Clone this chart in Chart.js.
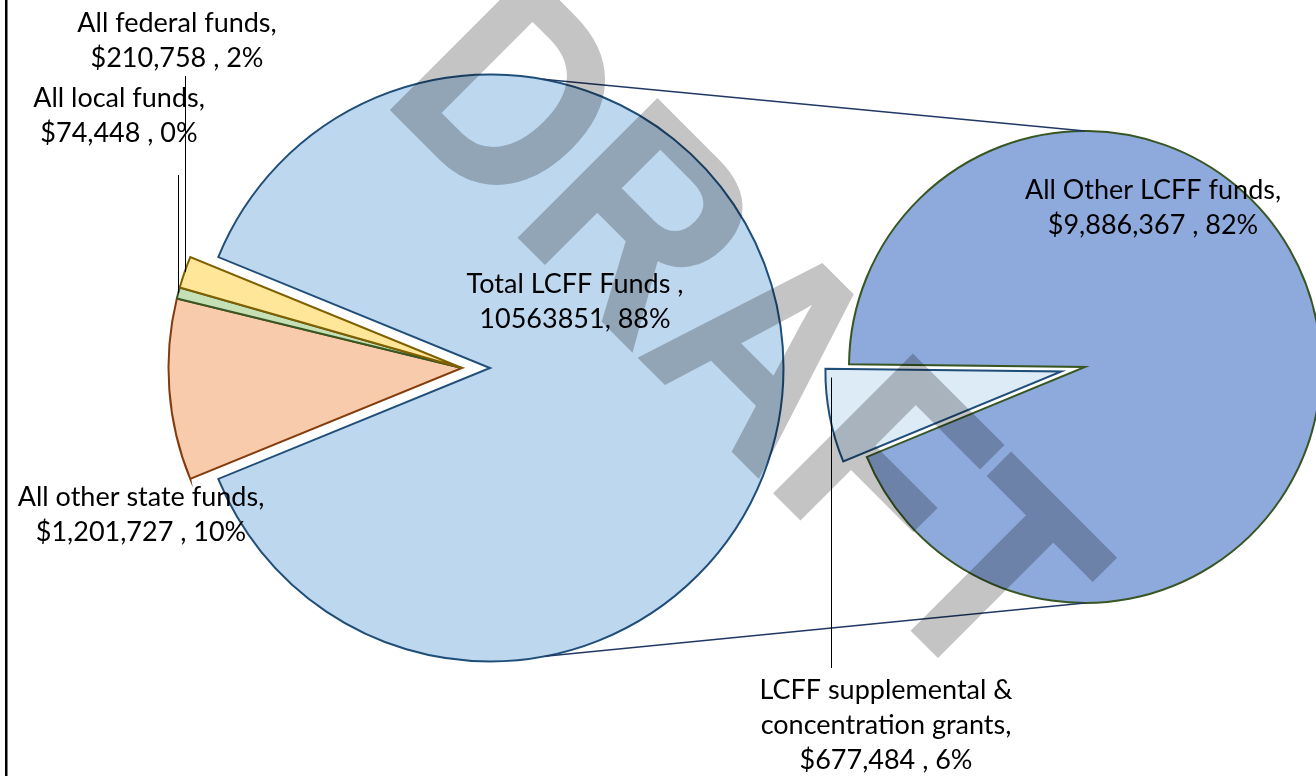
<!DOCTYPE html>
<html>
<head>
<meta charset="utf-8">
<script src="https://cdn.jsdelivr.net/npm/chart.js@4.4.1/dist/chart.umd.min.js"></script>
<style>
  html, body { margin: 0; padding: 0; background: #fff; }
  #wrap { position: relative; width: 1316px; height: 776px; overflow: hidden; }
  #wrap canvas { position: absolute; left: 0; top: 0; }
</style>
</head>
<body>
<div id="wrap">
  <canvas id="leftMain" width="1316" height="776"></canvas>
  <canvas id="leftSmall" width="1316" height="776"></canvas>
  <canvas id="secondMain" width="1316" height="776"></canvas>
  <canvas id="secondSmall" width="1316" height="776"></canvas>
</div>
<script>
// ── Data ──────────────────────────────────────────────────────────────────────
// first pie
const firstCategories = ["All other state funds", "All local funds", "All federal funds", "Total LCFF Funds"];
const firstValues     = [1201727, 74448, 210758, 10563851];
const firstPercents   = ["10%", "0%", "2%", "88%"];
const firstFills      = ["#F8CBAD", "#C5E0B4", "#FFE699", "#BDD7EE"];
const firstBorders    = ["#843C0C", "#385723", "#7F6000", "#1F4E79"];

// second pie (breakdown of Total LCFF Funds)
const secondCategories = ["LCFF supplemental & concentration grants", "All Other LCFF funds"];
const secondValues     = [677484, 9886367];
const secondPercents   = ["6%", "82%"];
const secondFills      = ["#DDEBF7", "#8EA9DB"];
const secondBorders    = ["#1F4E79", "#375623"];

// ── Layout ────────────────────────────────────────────────────────────────────
const W = 1316, H = 776;
const FIRST_C = { x: 490, y: 368 }, FIRST_R = 293.5, FIRST_EXPLODE = 28;
const SECOND_C = { x: 1085, y: 367 }, SECOND_R = 236, SECOND_EXPLODE = 24;
const SECOND_ROT = 247.6;

const firstTotal = firstValues.reduce((a, b) => a + b, 0);
const otherShare = firstValues[3] / firstTotal;
const firstRot = 270 - 180 * (1 - otherShare);   // "other" slice centred at 3 o'clock

// exploded slice of the second pie moves along its bisector
const secondTotal = secondValues.reduce((a, b) => a + b, 0);
const smallMid = (SECOND_ROT - 90 + 180 * secondValues[0] / secondTotal) * Math.PI / 180;
const SMALL_C = {
  x: SECOND_C.x + SECOND_EXPLODE * Math.cos(smallMid),
  y: SECOND_C.y + SECOND_EXPLODE * Math.sin(smallMid)
};

function padFor(cx, cy) {
  const p = { top: 0, left: 0, right: 0, bottom: 0 };
  if (2 * cx <= W) p.right = W - 2 * cx; else p.left = 2 * cx - W;
  if (2 * cy <= H) p.bottom = H - 2 * cy; else p.top = 2 * cy - H;
  return p;
}

function baseOptions(pad) {
  return {
    responsive: false, animation: false, devicePixelRatio: 1, events: [],
    layout: { padding: pad },
    plugins: { legend: { display: false }, tooltip: { enabled: false } }
  };
}

// one pie where only the slices in `show` are painted
function pieChart(id, labels, values, fills, borders, show, center, radius, rotation, plugins) {
  return new Chart(document.getElementById(id), {
    type: "pie",
    data: {
      labels: labels,
      datasets: [{
        data: values,
        backgroundColor: fills.map((c, i) => show.includes(i) ? c : "rgba(0,0,0,0)"),
        borderColor: borders,
        borderWidth: values.map((v, i) => show.includes(i) ? 2 : 0),
        borderJoinStyle: "miter",
        radius: radius, rotation: rotation, clip: false
      }]
    },
    options: baseOptions(padFor(center.x, center.y)),
    plugins: plugins || []
  });
}

const money = v => "$" + v.toLocaleString("en-US");

// ── Labels ────────────────────────────────────────────────────────────────────
const firstLabels = [
  { lines: [firstCategories[0] + ",", money(firstValues[0]) + " , " + firstPercents[0]], x: 141, y: 497 },
  { lines: [firstCategories[1] + ",", money(firstValues[1]) + " , " + firstPercents[1]], x: 119, y: 98, leaderTop: 175 },
  { lines: [firstCategories[2] + ",", money(firstValues[2]) + " , " + firstPercents[2]], x: 177, y: 23, leaderTop: 76 },
  { lines: [firstCategories[3] + " ,", firstValues[3] + ", " + firstPercents[3]], x: 575, y: 284 }
];
const suppLines = secondCategories[0].replace("& ", "&\n").split("\n");
suppLines[suppLines.length - 1] += ",";
const secondLabels = [
  { lines: [...suppLines, money(secondValues[0]) + " , " + secondPercents[0]], x: 886, y: 690, leaderBottom: 668 },
  { lines: [secondCategories[1] + ",", money(secondValues[1]) + " , " + secondPercents[1]], x: 1153, y: 190 }
];

function drawLines(ctx, lbl) {
  ctx.save();
  ctx.font = "27px Lato";
  ctx.fillStyle = "#000";
  ctx.textAlign = "center";
  ctx.textBaseline = "middle";
  lbl.lines.forEach((s, i) => ctx.fillText(s, lbl.x, lbl.y + i * 35));
  ctx.restore();
}

// ── Charts ────────────────────────────────────────────────────────────────────
const leftMain = pieChart("leftMain", firstCategories, firstValues, firstFills, firstBorders,
  [3], FIRST_C, FIRST_R, firstRot);
const leftSmall = pieChart("leftSmall", firstCategories, firstValues, firstFills, firstBorders,
  [0, 1, 2], { x: FIRST_C.x - FIRST_EXPLODE, y: FIRST_C.y }, FIRST_R, firstRot);
const secondMain = pieChart("secondMain", secondCategories, secondValues, secondFills, secondBorders,
  [1], SECOND_C, SECOND_R, SECOND_ROT);

const overlay = {
  id: "overlay",
  afterDraw(chart) {
    const ctx = chart.ctx;
    const a = leftMain.getDatasetMeta(0).data[3];
    const big = secondMain.getDatasetMeta(0).data[1];
    const small = chart.getDatasetMeta(0).data[0];

    // connector lines between the pies
    ctx.save();
    ctx.strokeStyle = "#203864";
    ctx.lineWidth = 1.5;
    [[-79.6, -1], [79.2, 1]].forEach(([deg, s]) => {
      const t = deg * Math.PI / 180;
      ctx.beginPath();
      ctx.moveTo(a.x + a.outerRadius * Math.cos(t), a.y + a.outerRadius * Math.sin(t));
      ctx.lineTo(big.x, big.y + s * big.outerRadius);
      ctx.stroke();
    });
    ctx.restore();

    // DRAFT watermark (solid offscreen, then one alpha pass)
    const wm = document.createElement("canvas");
    wm.width = W; wm.height = H;
    const w = wm.getContext("2d");
    w.translate(380, 98);
    w.rotate(Math.PI / 4);
    w.scale(0.884, 1);
    w.font = 'bold 283px "Liberation Sans"';
    w.fillStyle = "#000";
    w.strokeStyle = "#000";
    w.lineWidth = 3;
    w.lineJoin = "miter";
    w.fillText("DRAFT", 0, 0);
    w.strokeText("DRAFT", 0, 0);
    ctx.save();
    ctx.globalAlpha = 0.23;
    ctx.drawImage(wm, 0, 0);
    ctx.restore();

    // leader lines
    ctx.save();
    ctx.strokeStyle = "#000";
    ctx.lineWidth = 1;
    const sm = leftSmall.getDatasetMeta(0).data;
    firstLabels.forEach((lbl, i) => {
      if (lbl.leaderTop === undefined) return;
      const el = sm[i];
      const m = (el.startAngle + el.endAngle) / 2;
      const px = el.x + el.outerRadius * Math.cos(m);
      const py = el.y + el.outerRadius * Math.sin(m);
      ctx.beginPath();
      ctx.moveTo(Math.round(px) + 0.5, lbl.leaderTop);
      ctx.lineTo(Math.round(px) + 0.5, py);
      ctx.stroke();
    });
    {
      const m = (small.startAngle + small.endAngle) / 2;
      const px = small.x + small.outerRadius * Math.cos(m) + 1;
      ctx.beginPath();
      ctx.moveTo(Math.round(px) + 0.5, small.y + 6);
      ctx.lineTo(Math.round(px) + 0.5, secondLabels[0].leaderBottom);
      ctx.stroke();
    }
    ctx.restore();

    firstLabels.forEach(l => drawLines(ctx, l));
    secondLabels.forEach(l => drawLines(ctx, l));

    // chart frame, left edge
    ctx.fillStyle = "#000";
    ctx.fillRect(5, 0, 2.5, H);
  }
};

const secondSmall = pieChart("secondSmall", secondCategories, secondValues, secondFills, secondBorders,
  [0], SMALL_C, SECOND_R, SECOND_ROT, [overlay]);
</script>
</body>
</html>
